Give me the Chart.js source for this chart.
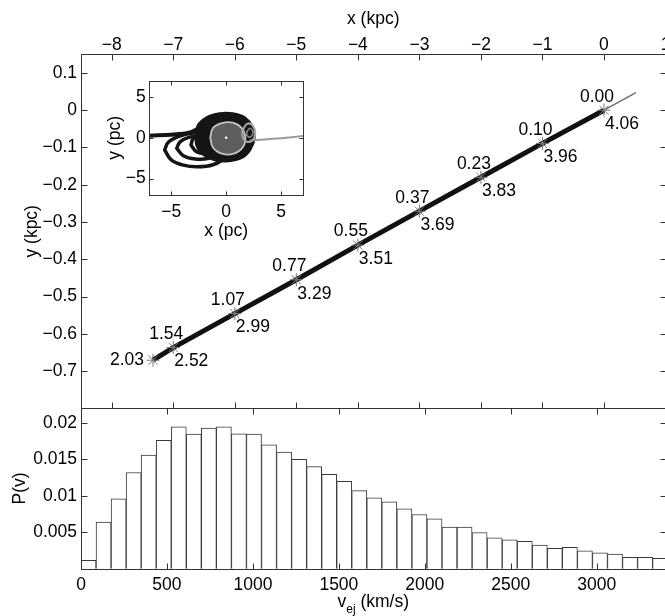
<!DOCTYPE html>
<html><head><meta charset="utf-8">
<script src="https://cdn.jsdelivr.net/npm/chart.js@4.4.1/dist/chart.umd.min.js"></script>
<style>
html,body{margin:0;padding:0;background:#fff;overflow:hidden}
#wrap{position:relative;width:665px;height:616px;overflow:hidden;background:#fff}
canvas{position:absolute}
</style></head><body>
<div id="wrap">
<canvas id="cTop" width="700" height="430" style="left:0;top:0"></canvas>
<canvas id="cBot" width="700" height="236" style="left:0;top:380px"></canvas>
<canvas id="cIns" width="230" height="190" style="left:95px;top:60px"></canvas>
</div>
<script>
// ---------- data ----------
const kpcTicks = [-8, -7, -6, -5, -4, -3, -2, -1, 0, 1];
const yKpcTicks = [-0.7, -0.6, -0.5, -0.4, -0.3, -0.2, -0.1, 0, 0.1];
const trackX = [0, -1, -2, -3, -4, -5, -6, -7, -7.33];
const trackY = [0, -0.089, -0.180, -0.271, -0.362, -0.455, -0.546, -0.637, -0.671];
const timeLabels = ['0.00', '0.10', '0.23', '0.37', '0.55', '0.77', '1.07', '1.54', '2.03'];
const distLabels = ['4.06', '3.96', '3.83', '3.69', '3.51', '3.29', '2.99', '2.52', ''];
const extX = [0, 0.52];
const extY = [0, 0.047];

const vTicks = [0, 500, 1000, 1500, 2000, 2500, 3000];
const pTicks = [0.005, 0.01, 0.015, 0.02];
const binWidth = 87.5;
const binEdges = [0, 87.5, 175, 262.5, 350, 437.5, 525, 612.5, 700, 787.5, 875, 962.5, 1050, 1137.5,
  1225, 1312.5, 1400, 1487.5, 1575, 1662.5, 1750, 1837.5, 1925, 2012.5, 2100, 2187.5, 2275, 2362.5,
  2450, 2537.5, 2625, 2712.5, 2800, 2887.5, 2975, 3062.5, 3150, 3237.5, 3325];
const pv = [0.00114, 0.0064, 0.0096, 0.0132, 0.0156, 0.0176, 0.01946, 0.01846, 0.01928, 0.01946,
  0.0185, 0.01846, 0.0170, 0.0160, 0.0150, 0.0140, 0.01294, 0.01199, 0.01071, 0.00971,
  0.00916, 0.0082, 0.00743, 0.00684, 0.0057, 0.0057, 0.00497, 0.00424, 0.00397, 0.00374,
  0.00323, 0.00278, 0.00292, 0.00246, 0.00219, 0.0020, 0.00155, 0.00155, 0.00141];

const pcTicks = [-5, 0, 5];
const insetLeftTrail = [[-7, 0.25], [-5.5, 0.35], [-4.2, 0.45], [-3.2, 0.7], [-2.3, 1.3]];
const insetLoopA = [[-5.6, -1.5], [-5.3, -0.6], [-4.6, 0.0], [-3.6, 0.45], [-2.4, 0.6], [-1.2, 0.4], [-0.2, -0.3],
  [0.2, -1.3], [-0.2, -2.5], [-1.2, -3.3], [-2.6, -3.55], [-3.9, -3.35], [-5.0, -2.7], [-5.6, -1.5]];
const insetLoopB = [[-4.5, -1.3], [-4.2, -0.5], [-3.4, 0.05], [-2.4, 0.2], [-1.3, 0.0], [-0.6, -0.8], [-0.7, -1.8],
  [-1.6, -2.5], [-2.8, -2.6], [-3.9, -2.2], [-4.5, -1.3]];
const insetLoopC = [[-3.2, -0.9], [-3.0, -0.1], [-2.3, 0.4], [-1.4, 0.4], [-0.8, -0.4], [-1.0, -1.4], [-1.8, -1.9],
  [-2.7, -1.7], [-3.2, -0.9]];
const insetCore = [[-2.8, 0.0], [-2.6, 1.5], [-1.8, 2.5], [-0.6, 3.0], [0.6, 3.0], [1.7, 2.5], [2.4, 1.4], [2.6, 0.0],
  [2.2, -1.5], [1.4, -2.5], [0.0, -2.9], [-1.2, -2.7], [-2.2, -2.0], [-2.7, -1.0], [-2.8, 0.0]];
const insetInner = [[-1.45, 0.0], [-1.2, 1.2], [-0.4, 1.8], [0.6, 1.85], [1.4, 1.2], [1.75, 0.0], [1.5, -1.2],
  [0.7, -1.95], [-0.4, -1.95], [-1.2, -1.2], [-1.45, 0.0]];
const insetGrayLoop = [[1.5, 0.9], [1.9, 1.7], [2.4, 1.5], [2.65, 0.5], [2.4, -0.3], [1.9, -0.5], [1.5, 0.1], [1.5, 0.9]];
const insetGrayLoop2 = [[1.9, 0.8], [2.2, 1.15], [2.45, 0.6], [2.2, 0.1], [1.9, 0.3], [1.9, 0.8]];
const insetGrayTrail = [[2.2, -0.35], [3.5, -0.2], [5.0, -0.05], [7.0, 0.2]];
const insetCenter = [[0, 0]];

// ---------- helpers ----------
const FONT = "'Liberation Sans', Arial, Helvetica, sans-serif";
const FS = 17.5;
Chart.defaults.font.family = FONT;
Chart.defaults.font.size = FS;
Chart.defaults.color = '#000';
const fmt = v => (v < 0 ? '\u2212' + String(Math.abs(v)) : String(v));
const setTicks = arr => (s => { s.ticks = arr.map(v => ({value: v})); });
const pts = arr => arr.map(p => ({x: p[0], y: p[1]}));
const AXC = '#333';

const framePlugin = {
  id: 'frame',
  afterDatasetsDraw(chart, args, opts) {
    const {ctx, chartArea: a} = chart;
    const L = Math.round(a.left) + 0.5, R = Math.round(a.right) + 0.5;
    const T = Math.round(a.top) + 0.5, B = Math.round(a.bottom) + 0.5;
    const len = opts.len || 6;
    ctx.save();
    ctx.strokeStyle = AXC;
    ctx.lineWidth = 1;
    ctx.strokeRect(L, T, R - L, B - T);
    ctx.beginPath();
    const xs = chart.scales.x, ys = chart.scales.y;
    xs.ticks.forEach(t => {
      const p = Math.round(xs.getPixelForValue(t.value)) + 0.5;
      ctx.moveTo(p, T); ctx.lineTo(p, T + len);
      ctx.moveTo(p, B); ctx.lineTo(p, B - len);
    });
    ys.ticks.forEach(t => {
      const p = Math.round(ys.getPixelForValue(t.value)) + 0.5;
      ctx.moveTo(L, p); ctx.lineTo(L + len, p);
      ctx.moveTo(R, p); ctx.lineTo(R - len, p);
    });
    ctx.stroke();
    ctx.restore();
  }
};

const polyFillPlugin = {
  id: 'polyFill',
  beforeDatasetDraw(chart, args) {
    const ds = chart.data.datasets[args.index];
    if (!ds.polyFill) return;
    const line = args.meta.dataset;
    const {ctx, chartArea: a} = chart;
    ctx.save();
    ctx.beginPath();
    ctx.rect(a.left, a.top, a.right - a.left, a.bottom - a.top);
    ctx.clip();
    ctx.beginPath();
    line.path(ctx);
    ctx.closePath();
    ctx.fillStyle = ds.polyFill;
    ctx.fill();
    ctx.restore();
  }
};

const baseOpts = {
  responsive: false,
  animation: false,
  events: [],
  plugins: {legend: {display: false}, tooltip: {enabled: false}}
};

// ---------- top panel ----------
const markLabelPlugin = {
  id: 'markLabels',
  afterDatasetsDraw(chart) {
    const {ctx} = chart;
    const xs = chart.scales.x, ys = chart.scales.y;
    ctx.save();
    ctx.font = FS + 'px ' + FONT;
    ctx.fillStyle = '#000';
    ctx.textBaseline = 'middle';
    trackX.forEach((xv, i) => {
      const px = xs.getPixelForValue(xv), py = ys.getPixelForValue(trackY[i]);
      if (distLabels[i]) {
        ctx.textAlign = 'center';
        ctx.fillText(timeLabels[i], px - 7, py - 13.5);
        ctx.textAlign = 'left';
        ctx.fillText(distLabels[i], px + 1, py + 14);
      } else {
        ctx.textAlign = 'right';
        ctx.fillText(timeLabels[i], px - 9, py);
      }
    });
    ctx.restore();
  }
};

new Chart(document.getElementById('cTop'), {
  type: 'line',
  data: {
    datasets: [
      {
        data: trackX.map((x, i) => ({x, y: trackY[i]})),
        showLine: false, pointStyle: 'star', pointRadius: 6.5, pointBorderWidth: 1,
        pointBorderColor: '#7a7a7a', pointBackgroundColor: '#7a7a7a', order: 1
      },
      {
        data: extX.map((x, i) => ({x, y: extY[i]})),
        borderColor: '#6e6e6e', borderWidth: 1.5, pointRadius: 0, order: 2
      },
      {
        data: trackX.map((x, i) => ({x, y: trackY[i]})),
        borderColor: '#111', borderWidth: 5, pointRadius: 0, order: 3
      }
    ]
  },
  options: Object.assign({}, baseOpts, {
    layout: {padding: {left: 0, top: 0, right: 34.5, bottom: 21.7}},
    scales: {
      x: {
        type: 'linear', position: 'top', min: -8.5, max: 1,
        afterBuildTicks: setTicks(kpcTicks), afterFit: s => { s.height = 54.3; },
        grid: {display: false, drawTicks: false}, border: {display: false},
        ticks: {callback: v => fmt(v), padding: 0.5, autoSkip: false, maxRotation: 0, font: {size: FS, lineHeight: 1}},
        title: {display: true, text: 'x (kpc)', padding: {top: 10, bottom: 0}, font: {size: FS, lineHeight: 1}}
      },
      y: {
        type: 'linear', position: 'left', min: -0.8, max: 0.15,
        afterBuildTicks: setTicks(yKpcTicks), afterFit: s => { s.width = 81; },
        grid: {display: false, drawTicks: false}, border: {display: false},
        ticks: {callback: v => fmt(v), padding: 4, autoSkip: false, font: {size: FS, lineHeight: 1}},
        title: {display: true, text: 'y (kpc)', padding: {top: 23.5, bottom: 0}, font: {size: FS, lineHeight: 1}}
      }
    },
    plugins: Object.assign({}, baseOpts.plugins, {frame: {len: 6}})
  }),
  plugins: [framePlugin, markLabelPlugin]
});

// ---------- bottom panel ----------
const vTitlePlugin = {
  id: 'vTitle',
  afterDraw(chart) {
    const {ctx, chartArea: a} = chart;
    const cx = (a.left + a.right) / 2;
    const y = 221.7;
    ctx.save();
    ctx.fillStyle = '#000';
    ctx.textBaseline = 'middle';
    ctx.textAlign = 'left';
    const big = FS + 'px ' + FONT, small = '12px ' + FONT;
    ctx.font = big; const w1 = ctx.measureText('v').width;
    const w3 = ctx.measureText(' (km/s)').width;
    ctx.font = small; const w2 = ctx.measureText('ej').width;
    let x = cx - (w1 + w2 + w3) / 2;
    ctx.font = big; ctx.fillText('v', x, y); x += w1;
    ctx.font = small; ctx.fillText('ej', x, y + 8); x += w2;
    ctx.font = big; ctx.fillText(' (km/s)', x, y);
    ctx.restore();
  }
};

new Chart(document.getElementById('cBot'), {
  type: 'bar',
  data: {
    datasets: [{
      data: pv.map((p, i) => ({x: binEdges[i] + binWidth / 2, y: p})),
      backgroundColor: '#fff', borderColor: '#3a3a3a', borderWidth: 1,
      barPercentage: 1, categoryPercentage: 1
    }]
  },
  options: Object.assign({}, baseOpts, {
    layout: {padding: {left: 0, top: 28.3, right: 34.5, bottom: 0}},
    scales: {
      x: {
        type: 'linear', position: 'bottom', min: 0, max: 3400, offset: false,
        afterBuildTicks: setTicks(vTicks), afterFit: s => { s.height = 47.3; },
        grid: {display: false, drawTicks: false, offset: false}, border: {display: false},
        ticks: {callback: v => fmt(v), padding: 7.3, autoSkip: false, maxRotation: 0, font: {size: FS, lineHeight: 1}},
        title: {display: false}
      },
      y: {
        type: 'linear', position: 'left', min: 0, max: 0.022,
        afterBuildTicks: setTicks(pTicks), afterFit: s => { s.width = 81; },
        grid: {display: false, drawTicks: false}, border: {display: false},
        ticks: {callback: v => fmt(v), padding: 4, autoSkip: false, font: {size: FS, lineHeight: 1}},
        title: {display: true, text: 'P(v)', padding: {top: 11.5, bottom: 0}, font: {size: FS, lineHeight: 1}}
      }
    },
    plugins: Object.assign({}, baseOpts.plugins, {frame: {len: 6}})
  }),
  plugins: [framePlugin, vTitlePlugin]
});

// ---------- inset ----------
const lineDs = (arr, color, width, order, extra) => Object.assign({
  data: pts(arr), borderColor: color, borderWidth: width, pointRadius: 0,
  tension: 0.4, borderJoinStyle: 'round', borderCapStyle: 'round', order
}, extra || {});

new Chart(document.getElementById('cIns'), {
  type: 'line',
  data: {
    datasets: [
      lineDs(insetLeftTrail, '#151515', 4, 8),
      lineDs(insetLoopA, '#151515', 3.5, 7),
      lineDs(insetLoopB, '#151515', 3.5, 6),
      lineDs(insetLoopC, '#151515', 3.5, 5),
      lineDs(insetCore, '#151515', 2, 4, {polyFill: '#151515'}),
      lineDs(insetInner, '#c4c4c4', 1.8, 3, {polyFill: '#5e5e5e'}),
      lineDs(insetGrayLoop, '#a8a8a8', 2, 2),
      lineDs(insetGrayLoop2, '#8a8a8a', 1.5, 2),
      lineDs(insetGrayTrail, '#9a9a9a', 2, 1, {tension: 0.2}),
      {data: pts(insetCenter), showLine: false, pointRadius: 1.3, pointBorderWidth: 0,
       pointBackgroundColor: '#fff', order: 0}
    ]
  },
  options: Object.assign({}, baseOpts, {
    layout: {padding: {left: 0, top: 20.5, right: 22, bottom: 0}},
    scales: {
      x: {
        type: 'linear', position: 'bottom', min: -7, max: 7,
        afterBuildTicks: setTicks(pcTicks), afterFit: s => { s.height = 55; },
        grid: {display: false, drawTicks: false}, border: {display: false},
        ticks: {callback: v => fmt(v), padding: 8.2, autoSkip: false, maxRotation: 0, font: {size: FS, lineHeight: 1}},
        title: {display: true, text: 'x (pc)', padding: {top: 0, bottom: 9.8}, font: {size: FS, lineHeight: 1}}
      },
      y: {
        type: 'linear', position: 'left', min: -7, max: 7,
        afterBuildTicks: setTicks(pcTicks), afterFit: s => { s.width = 54.3; },
        grid: {display: false, drawTicks: false}, border: {display: false},
        ticks: {callback: v => fmt(v), padding: 3.5, autoSkip: false, font: {size: FS, lineHeight: 1}},
        title: {display: true, text: 'y (pc)', padding: {top: 11.5, bottom: 0}, font: {size: FS, lineHeight: 1}}
      }
    },
    plugins: Object.assign({}, baseOpts.plugins, {frame: {len: 4}})
  }),
  plugins: [polyFillPlugin, framePlugin]
});
</script>
</body></html>
